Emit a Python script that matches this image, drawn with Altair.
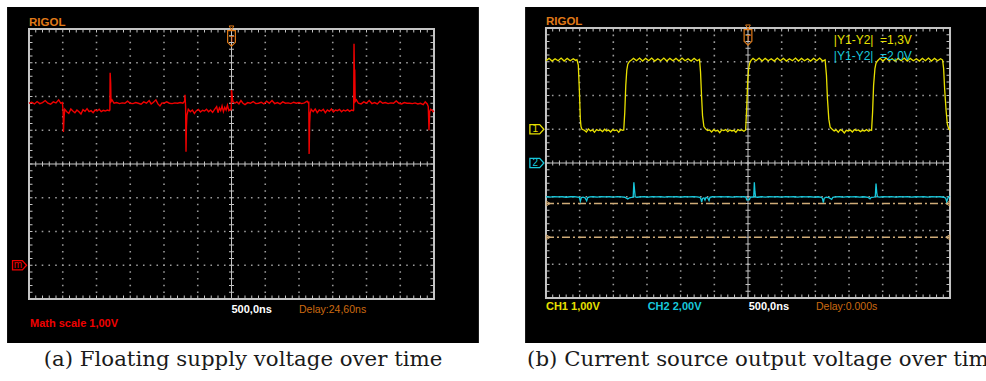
import altair as alt
import pandas as pd

# ------------------------------------------------------------------ data
# Math trace of the floating supply: (time in ns, value in V)
MATH_TRACE = [
    (-3000, 4.80), (-2960, 4.83), (-2920, 4.78), (-2880, 4.85), (-2840, 4.79),
    (-2800, 4.82), (-2760, 4.88), (-2720, 4.80), (-2680, 4.77), (-2640, 4.84),
    (-2600, 4.81), (-2560, 4.90), (-2530, 4.80), (-2505, 4.82),
    (-2495, 4.55), (-2490, 3.95), (-2480, 4.40), (-2470, 4.62),
    (-2440, 4.55), (-2410, 4.50), (-2380, 4.63), (-2350, 4.57), (-2320, 4.52),
    (-2290, 4.60), (-2260, 4.55), (-2230, 4.48), (-2200, 4.61), (-2170, 4.56),
    (-2140, 4.64), (-2110, 4.55), (-2080, 4.58), (-2050, 4.52), (-2020, 4.60),
    (-1990, 4.57), (-1960, 4.62), (-1930, 4.55), (-1900, 4.59), (-1870, 4.57),
    (-1840, 4.60), (-1810, 4.58),
    (-1802, 4.60), (-1798, 5.70), (-1790, 5.40), (-1785, 4.85), (-1770, 4.90),
    (-1740, 4.80), (-1700, 4.82), (-1660, 4.79), (-1620, 4.81), (-1580, 4.80),
    (-1540, 4.86), (-1500, 4.80), (-1460, 4.79), (-1420, 4.82), (-1380, 4.80),
    (-1340, 4.77), (-1300, 4.84), (-1260, 4.80), (-1220, 4.88), (-1190, 4.78),
    (-1160, 4.82), (-1120, 4.90), (-1090, 4.78), (-1060, 4.72), (-1030, 4.81),
    (-1000, 4.80), (-960, 4.84), (-920, 4.80), (-880, 4.79), (-840, 4.81),
    (-800, 4.80), (-760, 4.82), (-720, 4.80), (-695, 4.86), (-689, 5.05),
    (-680, 4.70), (-674, 3.36), (-668, 4.10), (-660, 4.45), (-640, 4.62),
    (-610, 4.55), (-580, 4.60), (-550, 4.50), (-520, 4.58), (-490, 4.62),
    (-460, 4.54), (-430, 4.59), (-400, 4.57), (-370, 4.62), (-340, 4.55),
    (-310, 4.60), (-280, 4.53), (-250, 4.62), (-220, 4.70), (-200, 4.52),
    (-180, 4.66), (-160, 4.58), (-140, 4.72), (-120, 4.55), (-100, 4.68),
    (-80, 4.60), (-60, 4.74), (-40, 4.58), (-20, 4.62), (-8, 4.60),
    (-3, 4.62), (0, 5.19), (8, 5.05), (20, 4.85),
    (50, 4.80), (80, 4.84), (110, 4.78), (140, 4.88), (170, 4.80),
    (200, 4.76), (240, 4.82), (280, 4.80), (320, 4.85), (360, 4.79),
    (400, 4.80), (440, 4.83), (480, 4.78), (520, 4.86), (560, 4.80),
    (600, 4.88), (640, 4.79), (680, 4.82), (720, 4.78), (760, 4.84),
    (800, 4.80), (840, 4.81), (880, 4.79), (920, 4.83), (960, 4.80),
    (1000, 4.82), (1040, 4.79), (1080, 4.81), (1120, 4.86), (1140, 4.80),
    (1145, 4.85), (1150, 3.30), (1158, 4.20), (1165, 4.50), (1180, 4.62),
    (1210, 4.55), (1240, 4.63), (1270, 4.52), (1300, 4.60), (1330, 4.57),
    (1360, 4.62), (1390, 4.52), (1420, 4.60), (1450, 4.56), (1480, 4.63),
    (1510, 4.54), (1540, 4.60), (1570, 4.58), (1600, 4.62), (1630, 4.55),
    (1660, 4.60), (1690, 4.57), (1720, 4.61), (1750, 4.56), (1780, 4.60),
    (1805, 4.58),
    (1810, 4.60), (1815, 6.56), (1822, 5.50), (1826, 5.80), (1832, 4.85),
    (1850, 4.90),
    (1880, 4.80), (1920, 4.78), (1960, 4.84), (2000, 4.80), (2040, 4.88),
    (2080, 4.79), (2120, 4.82), (2160, 4.78), (2200, 4.86), (2240, 4.80),
    (2280, 4.82), (2320, 4.79), (2360, 4.81), (2400, 4.80), (2440, 4.87),
    (2480, 4.80), (2520, 4.78), (2560, 4.82), (2600, 4.80), (2640, 4.80),
    (2680, 4.79), (2720, 4.81), (2760, 4.78), (2800, 4.80), (2840, 4.76),
    (2870, 4.84), (2900, 4.78),
    (2915, 4.70), (2926, 4.00), (2935, 4.55), (2950, 4.62), (2970, 4.60),
    (2985, 4.55), (3000, 4.58),
]

# CH1: current source output (time in ns, value in V)
CH1_TRACE = [
    (-3000, 2.03), (-2955, 2.10), (-2910, 2.02), (-2865, 2.09), (-2820, 2.03),
    (-2775, 2.11), (-2730, 2.02), (-2685, 2.10), (-2640, 2.03), (-2595, 2.09),
    (-2560, 2.04), (-2540, 2.06),
    (-2520, 1.90), (-2505, 1.20), (-2490, 0.30), (-2480, 0.08), (-2465, 0.00),
    (-2430, -0.03), (-2400, -0.08), (-2370, 0.01), (-2340, -0.05), (-2310, -0.02),
    (-2280, -0.09), (-2250, -0.01), (-2220, -0.04), (-2190, -0.02), (-2160, -0.07),
    (-2130, 0.00), (-2100, -0.05), (-2070, -0.02), (-2040, -0.08), (-2010, -0.01),
    (-1980, -0.04), (-1950, -0.02), (-1920, -0.09), (-1890, -0.01), (-1860, -0.03),
    (-1845, -0.02),
    (-1830, 0.50), (-1815, 1.30), (-1800, 1.75), (-1785, 1.93), (-1760, 2.01),
    (-1730, 2.05),
    (-1700, 2.10), (-1655, 2.03), (-1610, 2.11), (-1565, 2.02), (-1520, 2.10),
    (-1475, 2.03), (-1430, 2.11), (-1385, 2.02), (-1340, 2.09), (-1295, 2.03),
    (-1250, 2.11), (-1205, 2.02), (-1160, 2.10), (-1115, 2.03), (-1070, 2.10),
    (-1025, 2.02), (-980, 2.11), (-935, 2.03), (-890, 2.09), (-845, 2.02),
    (-800, 2.10), (-755, 2.03), (-720, 2.07),
    (-705, 1.70), (-690, 1.00), (-675, 0.40), (-655, 0.08), (-630, 0.01),
    (-600, -0.04), (-570, -0.02), (-540, -0.08), (-510, -0.01), (-480, -0.05),
    (-450, -0.03), (-420, -0.10), (-390, -0.02), (-360, -0.04), (-330, -0.01),
    (-300, -0.07), (-270, -0.02), (-240, -0.05), (-210, -0.03), (-180, -0.09),
    (-150, -0.01), (-120, -0.04), (-90, -0.02), (-60, -0.06), (-35, -0.02),
    (-20, 0.60), (-5, 1.40), (10, 1.80), (25, 1.96), (45, 2.04),
    (75, 2.10), (120, 2.03), (165, 2.11), (210, 2.02), (255, 2.10),
    (300, 2.03), (345, 2.09), (390, 2.02), (435, 2.11), (480, 2.03),
    (525, 2.10), (570, 2.02), (615, 2.09), (660, 2.03), (705, 2.11),
    (750, 2.02), (795, 2.10), (840, 2.03), (885, 2.09), (930, 2.02),
    (975, 2.10), (1020, 2.03), (1065, 2.11), (1110, 2.02), (1145, 2.06),
    (1165, 1.60), (1180, 0.90), (1200, 0.30), (1220, 0.06), (1250, 0.00),
    (1280, -0.05), (1310, -0.02), (1340, -0.09), (1370, -0.01), (1400, -0.04),
    (1430, -0.11), (1460, -0.03), (1490, -0.05), (1520, -0.02), (1550, -0.08),
    (1580, -0.01), (1610, -0.04), (1640, -0.02), (1670, -0.07), (1700, -0.03),
    (1730, -0.05), (1760, -0.01), (1790, -0.06), (1820, -0.02), (1835, -0.03),
    (1850, 0.50), (1865, 1.30), (1885, 1.80), (1900, 1.95), (1925, 2.03),
    (1960, 2.10), (2005, 2.02), (2050, 2.11), (2095, 2.03), (2140, 2.09),
    (2185, 2.02), (2230, 2.10), (2275, 2.03), (2320, 2.11), (2365, 2.02),
    (2410, 2.10), (2455, 2.03), (2500, 2.09), (2545, 2.02), (2590, 2.10),
    (2635, 2.03), (2680, 2.11), (2725, 2.02), (2770, 2.10), (2815, 2.03),
    (2860, 2.09), (2890, 2.05),
    (2905, 1.80), (2920, 1.20), (2940, 0.60), (2960, 0.15), (2980, 0.02),
    (3000, -0.02),
]

# CH2 (time in ns, value in V)
CH2_TRACE = [
    (-3000, -2.00), (-2940, -2.02), (-2880, -1.99), (-2820, -2.01), (-2760, -2.00),
    (-2700, -2.03), (-2640, -2.00), (-2580, -1.99), (-2530, -2.02), (-2505, -2.04),
    (-2490, -2.27), (-2475, -2.05), (-2450, -2.02), (-2420, -2.06), (-2396, -2.24),
    (-2380, -2.05), (-2350, -2.01), (-2300, -2.00), (-2240, -2.02), (-2180, -1.99),
    (-2120, -2.01), (-2060, -2.00), (-2000, -2.02), (-1940, -1.99), (-1880, -2.01),
    (-1830, -2.03), (-1800, -2.10), (-1785, -2.13), (-1760, -2.06), (-1730, -2.04),
    (-1705, -2.02), (-1695, -1.14), (-1685, -1.60), (-1675, -2.00), (-1650, -2.03),
    (-1600, -2.01), (-1540, -2.00), (-1480, -2.02), (-1420, -1.99), (-1360, -2.01),
    (-1300, -2.00), (-1240, -2.02), (-1180, -1.99), (-1120, -2.01), (-1060, -2.00),
    (-1000, -2.02), (-940, -2.00), (-880, -2.01), (-820, -1.99), (-760, -2.01),
    (-715, -2.03), (-700, -2.12), (-688, -2.31), (-675, -2.10), (-655, -2.06),
    (-639, -2.20), (-625, -2.04), (-600, -2.06), (-579, -2.22), (-565, -2.03),
    (-530, -2.00), (-470, -2.01), (-410, -1.99), (-350, -2.01), (-290, -2.00),
    (-230, -2.02), (-170, -1.99), (-110, -2.01), (-60, -2.00), (-30, -2.02),
    (-20, -2.18), (0, -2.19), (20, -2.17), (35, -2.03), (60, -2.01),
    (85, -2.02), (94, -1.14), (103, -1.70), (112, -2.01), (140, -2.03),
    (200, -2.00), (260, -2.02), (320, -1.99), (380, -2.01), (440, -2.00),
    (500, -2.02), (560, -1.99), (620, -2.01), (680, -2.00), (740, -2.02),
    (800, -1.99), (860, -2.01), (920, -2.00), (980, -2.02), (1040, -2.00),
    (1090, -2.03), (1105, -2.10), (1119, -2.35), (1132, -2.08), (1160, -2.03),
    (1200, -2.05), (1243, -2.15), (1260, -2.03), (1300, -2.01), (1360, -2.00),
    (1420, -2.02), (1480, -1.99), (1540, -2.01), (1600, -2.00), (1660, -2.02),
    (1720, -2.00), (1780, -2.03), (1812, -2.12), (1830, -2.04), (1870, -2.02),
    (1890, -2.00), (1901, -1.22), (1912, -1.75), (1922, -2.00), (1950, -2.02),
    (2010, -2.00), (2070, -2.01), (2130, -1.99), (2190, -2.02), (2250, -2.00),
    (2310, -2.01), (2370, -1.99), (2430, -2.02), (2490, -2.00), (2550, -2.01),
    (2610, -2.00), (2670, -2.02), (2730, -1.99), (2790, -2.01), (2850, -2.00),
    (2910, -2.03), (2935, -2.08), (2951, -2.29), (2970, -2.06), (2985, -2.00),
    (3000, -1.96),
]

# CH2 horizontal cursors (V)
CH2_CURSORS = [-2.4, -4.4]

# scope settings: time base, volts per division and reference position (div)
NS_PER_DIV = 500
MATH_VDIV, MATH_POS = 1.0, -3.0
CH1_VDIV, CH1_POS = 1.0, 1.0
CH2_VDIV, CH2_POS = 2.0, 0.0

# on-screen labels
BRAND = "RIGOL"
TIMEBASE = "500,0ns"
DELAY_A = "Delay:24,60ns"
DELAY_B = "Delay:0.000s"
MATH_LABEL = "Math scale 1,00V"
CH1_LABEL = "CH1 1,00V"
CH2_LABEL = "CH2 2,00V"
CURSOR_CH1 = "|Y1-Y2|\u00a0 =1,3V"
CURSOR_CH2 = "|Y1-Y2|\u00a0 =2,0V"
CAPTION_A = "(a) Floating supply voltage over time"
CAPTION_B = "(b) Current source output voltage over time"

# ------------------------------------------------------------------ layout
W, H = 986, 381
HDIV, VDIV, SUB = 6, 4, 5

# grid centre (px) and pixels per division of each screen, plus the
# extent of the black display in divisions (x0, x1, y0, y1)
GEOM_A = dict(cx=231.5, cy=164.0, px=33.75, py=33.75, screen=(-6.65, 7.33, -5.30, 4.65))
GEOM_B = dict(cx=748.0, cy=163.0, px=33.67, py=33.75, screen=(-6.62, 7.45, -5.33, 4.62))

ORANGE = "#e07a18"
ORANGE_DARK = "#cc6a10"
RED = "#f00000"
YELLOW = "#e8e000"
CYAN = "#18c8dc"
GRID = "#c4c4c4"
DOTS = "#9a9a9a"
CURSOR = "#d0ac78"

SCOPE_FONT = "Liberation Sans"
# channel reference tag (box with an arrow tip) and trigger tag (box with a point)
TAG_PATH = "M-1,-0.66L0.4,-0.66L1,0L0.4,0.66L-1,0.66Z"
TRIG_PATH = "M-0.5,-1L0.5,-1L0.5,0.5L0,1L-0.5,0.5Z"


def trace_frame(samples, vdiv, pos):
    return pd.DataFrame({
        "x": [t / NS_PER_DIV for t, _ in samples],
        "y": [v / vdiv + pos for _, v in samples],
    })


def screen(geom, extras):
    xs = alt.Scale(domain=[-geom["cx"] / geom["px"], (W - geom["cx"]) / geom["px"]],
                   nice=False, zero=False)
    ys = alt.Scale(domain=[(geom["cy"] - H) / geom["py"], geom["cy"] / geom["py"]],
                   nice=False, zero=False)

    def X(f):
        return alt.X(f, type="quantitative", scale=xs, axis=None)

    def Y(f):
        return alt.Y(f, type="quantitative", scale=ys, axis=None)

    def segs(rows, mark="rule", **kw):
        ch = alt.Chart(pd.DataFrame(rows))
        ch = ch.mark_rect(**kw) if mark == "rect" else ch.mark_rule(**kw)
        return ch.encode(x=X("x"), x2=alt.X2("x2"), y=Y("y"), y2=alt.Y2("y2"))

    def line(df, color, width=1.3):
        return alt.Chart(df).mark_line(color=color, strokeWidth=width).encode(x=X("x"), y=Y("y"))

    def text(rows, **kw):
        return alt.Chart(pd.DataFrame(rows)).mark_text(**kw).encode(
            x=X("x"), y=Y("y"), text=alt.Text("text:N"))

    def points(rows, **kw):
        return alt.Chart(pd.DataFrame(rows)).mark_point(**kw).encode(x=X("x"), y=Y("y"))

    sx0, sx1, sy0, sy1 = geom["screen"]
    px, py = geom["px"], geom["py"]
    minor_x = [i / SUB for i in range(-HDIV * SUB + 1, HDIV * SUB)]
    minor_y = [i / SUB for i in range(-VDIV * SUB + 1, VDIV * SUB)]

    layers = [
        segs([dict(x=sx0, x2=sx1, y=sy0, y2=sy1)], mark="rect", color="#000000"),
        segs([dict(x=k, x2=k, y=-VDIV, y2=VDIV) for k in range(-HDIV + 1, HDIV) if k != 0],
             color=DOTS, strokeWidth=1.6, strokeDash=[1.6, px / SUB - 1.6], strokeDashOffset=0.8),
        segs([dict(x=-HDIV, x2=HDIV, y=k, y2=k) for k in range(-VDIV + 1, VDIV) if k != 0],
             color=DOTS, strokeWidth=1.6, strokeDash=[1.6, px / SUB - 1.6], strokeDashOffset=0.8),
        segs([dict(x=0, x2=0, y=-VDIV, y2=VDIV), dict(x=-HDIV, x2=HDIV, y=0, y2=0)],
             color=GRID, strokeWidth=1),
        # minor ticks on the centre cross
        segs([dict(x=p, x2=p, y=-2.5 / py, y2=2.5 / py) for p in minor_x]
             + [dict(x=-2.5 / px, x2=2.5 / px, y=q, y2=q) for q in minor_y],
             color=GRID, strokeWidth=1),
        # minor ticks on the frame, pointing inwards
        segs([dict(x=p, x2=p, y=-VDIV, y2=-VDIV + 3.5 / py) for p in minor_x]
             + [dict(x=p, x2=p, y=VDIV - 3.5 / py, y2=VDIV) for p in minor_x]
             + [dict(x=-HDIV, x2=-HDIV + 3.5 / px, y=q, y2=q) for q in minor_y]
             + [dict(x=HDIV - 3.5 / px, x2=HDIV, y=q, y2=q) for q in minor_y],
             color=GRID, strokeWidth=1),
        segs([dict(x=-HDIV, x2=HDIV, y=-VDIV, y2=VDIV)], mark="rect",
             filled=False, color=GRID, strokeWidth=2),
        # trigger position marker
        points([dict(x=0, y=VDIV - 0.28)], shape=TRIG_PATH, size=240, filled=False,
               color=ORANGE, strokeWidth=1.2, opacity=1),
        text([dict(x=0, y=VDIV - 0.30, text="T")], font=SCOPE_FONT, fontSize=9,
             color=ORANGE, align="center", baseline="middle"),
        points([dict(x=0, y=VDIV + 0.03)], shape="triangle-down", size=22,
               filled=False, color=ORANGE, strokeWidth=1, opacity=1),
        text([dict(x=-6.0, y=4.10, text=BRAND)], font=SCOPE_FONT, fontSize=11.5,
             fontWeight="bold", color=ORANGE, align="left", baseline="alphabetic"),
    ]
    return alt.layer(*(layers + extras(X, Y, segs, line, text, points)))


def tag(points, text, x, y, label, color):
    return [
        points([dict(x=x, y=y)], shape=TAG_PATH, size=196, filled=False,
               color=color, strokeWidth=1.3, opacity=1),
        text([dict(x=x - 0.05, y=y, text=label)], font=SCOPE_FONT, fontSize=10,
             color=color, align="center", baseline="middle"),
    ]


def screen_a(X, Y, segs, line, text, points):
    return [
        line(trace_frame(MATH_TRACE, MATH_VDIV, MATH_POS), RED, 1.4),
        *tag(points, text, -6.28, MATH_POS, "m", RED),
        text([dict(x=0.0, y=-4.41, text=TIMEBASE)], font=SCOPE_FONT, fontSize=11,
             fontWeight="bold", color="#ffffff", align="left", baseline="alphabetic"),
        text([dict(x=2.0, y=-4.41, text=DELAY_A)], font=SCOPE_FONT, fontSize=10.5,
             color=ORANGE_DARK, align="left", baseline="alphabetic"),
        text([dict(x=-5.97, y=-4.82, text=MATH_LABEL)], font=SCOPE_FONT, fontSize=11,
             fontWeight="bold", color=RED, align="left", baseline="alphabetic"),
        text([dict(x=0.34, y=-5.99, text=CAPTION_A)], font="DejaVu Serif", fontSize=21.3,
             color="#1a1a1a", align="center", baseline="alphabetic"),
    ]


def screen_b(X, Y, segs, line, text, points):
    cursors = [dict(x=-HDIV, x2=HDIV, y=v / CH2_VDIV + CH2_POS, y2=v / CH2_VDIV + CH2_POS)
               for v in CH2_CURSORS]
    return [
        segs(cursors, color=CURSOR, strokeWidth=1.3, strokeDash=[8, 3, 2, 3]),
        points([dict(x=-HDIV + 0.07, y=c["y"]) for c in cursors], shape="triangle-right",
               size=22, filled=False, color=CURSOR, strokeWidth=1, opacity=1),
        points([dict(x=HDIV - 0.07, y=c["y"]) for c in cursors], shape="triangle-left",
               size=22, filled=False, color=CURSOR, strokeWidth=1, opacity=1),
        line(trace_frame(CH2_TRACE, CH2_VDIV, CH2_POS), CYAN),
        line(trace_frame(CH1_TRACE, CH1_VDIV, CH1_POS), YELLOW),
        *tag(points, text, -6.27, CH1_POS, "1", YELLOW),
        *tag(points, text, -6.27, CH2_POS, "2", CYAN),
        text([dict(x=2.55, y=3.53, text=CURSOR_CH1)], font=SCOPE_FONT, fontSize=12,
             color=YELLOW, align="left", baseline="alphabetic"),
        text([dict(x=2.55, y=3.05, text=CURSOR_CH2)], font=SCOPE_FONT, fontSize=12,
             color=CYAN, align="left", baseline="alphabetic"),
        text([dict(x=-6.0, y=-4.36, text=CH1_LABEL)], font=SCOPE_FONT, fontSize=11,
             fontWeight="bold", color=YELLOW, align="left", baseline="alphabetic"),
        text([dict(x=-2.98, y=-4.36, text=CH2_LABEL)], font=SCOPE_FONT, fontSize=11,
             fontWeight="bold", color=CYAN, align="left", baseline="alphabetic"),
        text([dict(x=0.02, y=-4.36, text=TIMEBASE)], font=SCOPE_FONT, fontSize=11,
             fontWeight="bold", color="#ffffff", align="left", baseline="alphabetic"),
        text([dict(x=2.02, y=-4.36, text=DELAY_B)], font=SCOPE_FONT, fontSize=10.5,
             color=ORANGE_DARK, align="left", baseline="alphabetic"),
        text([dict(x=-6.56, y=-6.01, text=CAPTION_B)], font="DejaVu Serif", fontSize=21.3,
             color="#1a1a1a", align="left", baseline="alphabetic"),
    ]


chart = alt.layer(screen(GEOM_A, screen_a), screen(GEOM_B, screen_b)).resolve_scale(
    x="independent", y="independent"
).properties(
    width=W, height=H, padding=0, background="#ffffff",
    autosize=alt.AutoSizeParams(type="none"),
).configure_view(stroke=None)

chart.save("out.html", embed_options={"renderer": "svg", "actions": False})
